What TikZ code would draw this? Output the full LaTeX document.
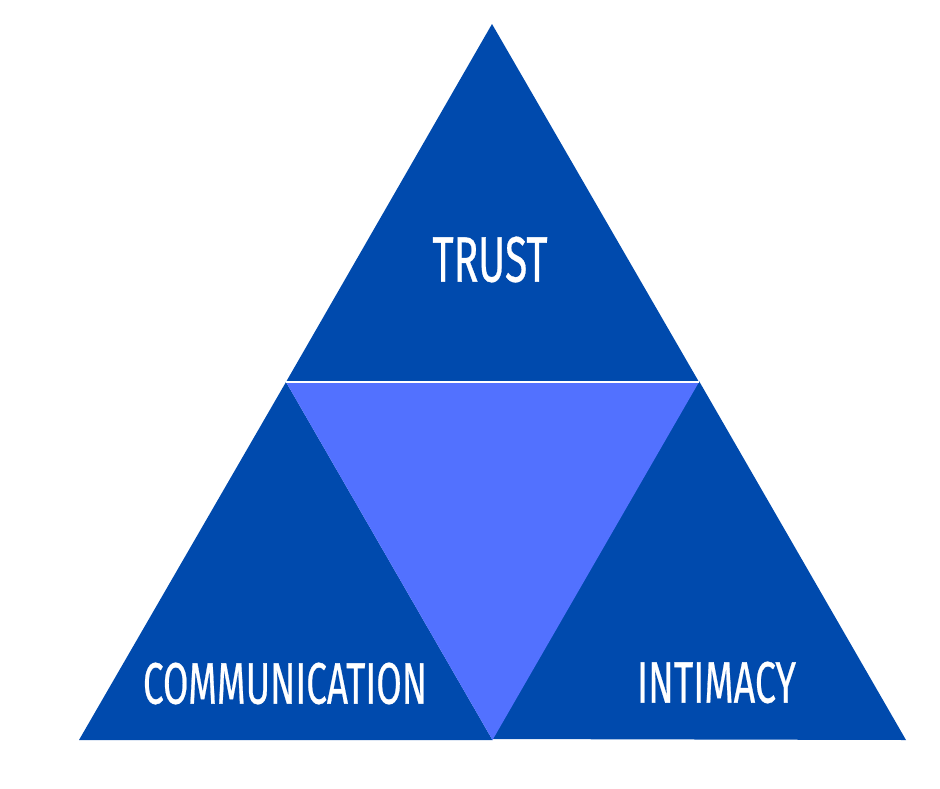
\documentclass[tikz,border=0pt]{standalone}
\usepackage{fontspec}
\setmainfont{Fira Sans}
\newfontfamily\tierfont{Fira Sans}[FakeBold=0.6]
\definecolor{pyramiddark}{HTML}{004AAD}
\definecolor{pyramidlight}{HTML}{5271FF}

% one white caption, squeezed into the width and cap height it has
\newcommand{\tierlabel}[3]{\resizebox{#1}{#2}{\tierfont #3}}

\tikzset{
  tier/.style={fill=pyramiddark, draw=none},
  core/.style={fill=pyramidlight, draw=none},
  tiertext/.style={text=white, inner sep=0pt, anchor=center},
}

\begin{document}
\begin{tikzpicture}[x=1pt, y=-1pt]
  \useasboundingbox (0,0) rectangle (940,788);

  % corners of the big triangle and the midpoints of its sides
  \coordinate (apex)  at (492,24);
  \coordinate (left)  at (79,740);
  \coordinate (right) at (906,740);
  \coordinate (midL)  at (286,382);
  \coordinate (midR)  at (699,382);
  \coordinate (midB)  at (492.5,740);

  % the three outer tiers, then the inverted centre
  \fill[tier] (apex) -- (midR) -- (midL) -- cycle;
  \fill[tier] (midL) -- (midB) -- (left) -- cycle;
  \fill[tier] ([yshift=1pt]midR) -- (right) -- ([yshift=1pt]midB) -- cycle;
  \fill[core] (midL) -- (midR) -- (midB) -- cycle;

  % thin gap under the top tier
  \draw[white, line width=1.4pt] (midL) -- (midR);

  \node[tiertext] (trust) at (490,259.5) {\tierlabel{115pt}{45pt}{TRUST}};
  \node[tiertext] (comm)  at (285,683.5) {\tierlabel{284pt}{41pt}{COMMUNICATION}};
  \node[tiertext] (intim) at (716.5,682.5) {\tierlabel{159pt}{41pt}{INTIMACY}};
\end{tikzpicture}
\end{document}
